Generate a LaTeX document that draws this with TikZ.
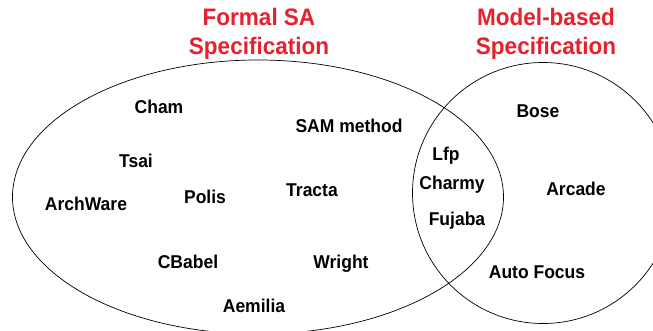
\documentclass[tikz,border=0pt]{standalone}
\usepackage{fontspec}
\setmainfont{Liberation Sans}
\definecolor{titlered}{RGB}{232,32,44}
\tikzset{
  setline/.style={draw=black, line width=0.7pt},
  item/.style={font=\fontsize{17.5}{19}\selectfont\bfseries, inner sep=0pt,
               text height=12.5pt, text depth=0pt, yscale=1.06},
  settitle/.style={font=\fontsize{22.5}{27}\selectfont\bfseries, text=titlered,
               align=center, inner sep=0pt, yscale=1.06}
}
\begin{document}
\begin{tikzpicture}[x=1pt, y=-1pt]
  \useasboundingbox (0,0) rectangle (653,331);
  \clip (0,0) rectangle (653,331);
  \fill[white] (0,0) rectangle (653,331);

  % the two sets
  \draw[setline] (258,197) ellipse [x radius=245.5, y radius=137];
  \draw[setline] (543,193) circle [radius=130.5];

  % set titles
  \node[settitle] (formal) at (259,34) {Formal SA\\Specification};
  \node[settitle] (model) at (546,34) {Model-based\\Specification};

  % formal SA approaches
  \node[item] (cham)   at (159,107) {Cham};
  \node[item] (sam)    at (349,126) {SAM method};
  \node[item] (tsai)   at (136,161) {Tsai};
  \node[item] (arch)   at (86,204)  {ArchWare};
  \node[item] (polis)  at (205,197) {Polis};
  \node[item] (tracta) at (312,190) {Tracta};
  \node[item] (cbabel) at (188,262) {CBabel};
  \node[item] (wright) at (341,262) {Wright};
  \node[item] (aemil)  at (254,306) {Aemilia};

  % shared
  \node[item] (lfp)    at (446,154) {Lfp};
  \node[item] (charmy) at (452,183) {Charmy};
  \node[item] (fujaba) at (457,219) {Fujaba};

  % model-based approaches
  \node[item] (bose)   at (538,111) {Bose};
  \node[item] (arcade) at (576,189) {Arcade};
  \node[item] (auto)   at (537,272) {Auto Focus};
\end{tikzpicture}
\end{document}
